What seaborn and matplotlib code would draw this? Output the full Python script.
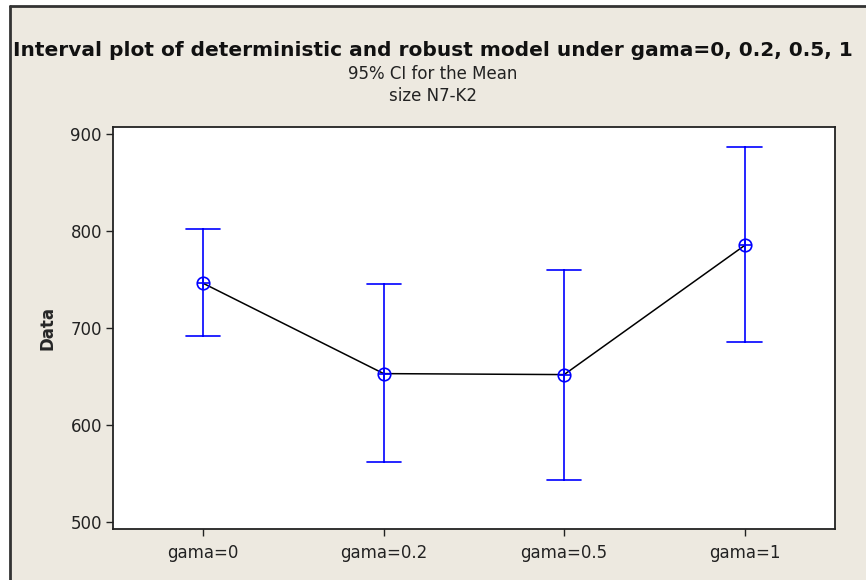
import numpy as np
import pandas as pd
import seaborn as sns
import matplotlib.pyplot as plt
from matplotlib.lines import Line2D

# values
levels = ['gama=0', 'gama=0.2', 'gama=0.5', 'gama=1']
means = [746, 653, 652, 785]
ci_low = [692, 562, 543, 686]
ci_high = [802, 745, 760, 886]
yticks = [500, 600, 700, 800, 900]

#long table: lower / mean / upper per level -> median = mean, full range = CI
rows = []
for lv, lo, m, hi in zip(levels, ci_low, means, ci_high):
    for v in (lo, m, hi):
        rows.append({'level': lv, 'value': v})
df = pd.DataFrame(rows)

sns.set_theme(style='white')
plt.rcParams['font.family'] = ['DejaVu Sans']

bg = '#ede9e0'
fig = plt.figure(figsize=(8.66, 5.80), dpi=100, facecolor=bg)
ax = fig.add_axes([0.1305, 0.088, 0.8335, 0.693])
ax.set_facecolor('white')

sns.pointplot(data=df, x='level', y='value', order=levels, estimator='median',
              errorbar=('pi', 100), capsize=0.19, color='blue', linestyle='none',
              marker='o', markersize=9, markerfacecolor='none', markeredgewidth=1.2,
              err_kws={'linewidth': 1.2}, ax=ax)
sns.lineplot(x=levels, y=means, color='black', linewidth=1.1, sort=False, ax=ax, zorder=1)
sns.scatterplot(x=levels, y=means, marker='+', s=80, color='blue', linewidth=1.2, ax=ax, zorder=5)

ax.set_xlim(-0.5, 3.5)
ax.set_ylim(493, 907)
ax.set_yticks(yticks)
ax.set_xlabel('')
ax.set_ylabel('Data', fontsize=12, fontweight='bold', labelpad=10)
ax.tick_params(axis='both', direction='out', length=5, width=1, color='#222222',
               labelsize=12, labelcolor='#222222', left=True, bottom=True, pad=3)
ax.tick_params(axis='x', pad=6)
for s in ax.spines.values():
    s.set_color('#222222')
    s.set_linewidth(1.3)

fig.text(0.5, 0.913, 'Interval plot of deterministic and robust model under gama=0, 0.2, 0.5, 1',
         ha='center', va='center', fontsize=14.5, fontweight='bold', color='#111111')
fig.text(0.5, 0.873, '95% CI for the Mean', ha='center', va='center', fontsize=12, color='#222222')
fig.text(0.5, 0.834, 'size N7-K2', ha='center', va='center', fontsize=12, color='#222222')

# outer frame: white margin + dark top/left edge
fig.patches.append(plt.Rectangle((0, 0), 1, 1, transform=fig.transFigure,
                                 facecolor='white', edgecolor='none', zorder=-3))
fig.patches.append(plt.Rectangle((10 / 866, 0), 1, 1 - 6 / 580, transform=fig.transFigure,
                                 facecolor=bg, edgecolor='none', zorder=-2))
fig.add_artist(Line2D([10 / 866, 10 / 866], [0, 1 - 6 / 580], color='#333333', lw=2))
fig.add_artist(Line2D([10 / 866, 1], [1 - 6 / 580, 1 - 6 / 580], color='#333333', lw=2))

fig.savefig('out.png', dpi=100, facecolor=bg)
